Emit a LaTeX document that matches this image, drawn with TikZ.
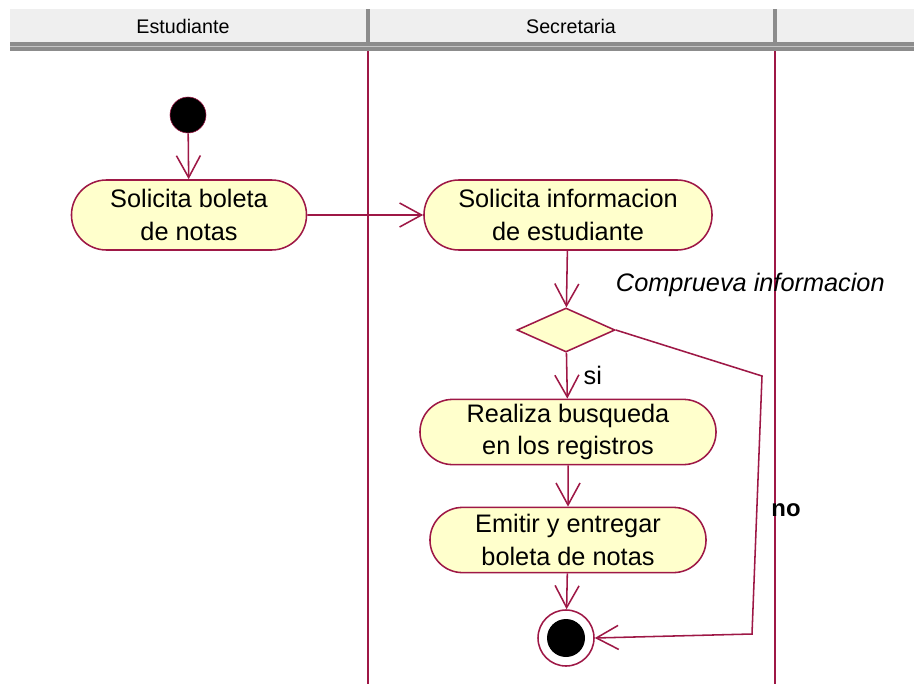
\documentclass[tikz,border=0pt]{standalone}
\usepackage{fontspec}
\setmainfont{Liberation Sans}
\usetikzlibrary{shapes.misc,shapes.geometric,arrows.meta}

\definecolor{roseline}{RGB}{158,24,70}
\definecolor{rosefill}{RGB}{255,255,204}
\definecolor{headgray}{RGB}{239,239,239}
\definecolor{bandgray}{RGB}{140,140,140}

\tikzset{
  activity/.style={rounded rectangle, draw=roseline, line width=1.1pt, fill=rosefill, align=center,
    inner sep=0pt, font=\fontsize{18}{23}\selectfont},
  flow/.style={draw=roseline, line width=1.1pt, -{Straight Barb[length=5.5mm,width=6mm]}},
  lane/.style={draw=roseline, line width=1.3pt}
}

\begin{document}
\begin{tikzpicture}[x=0.025cm, y=-0.025cm]
  \useasboundingbox (0,0) rectangle (914,684);

  % swimlane header
  \fill[headgray] (10,9) rectangle (914,42);
  \fill[bandgray] (10,42) rectangle (914,51);
  \draw[gray!45, line width=1pt] (10,46.5) -- (914,46.5);
  \draw[bandgray, line width=2.4pt] (368,9) -- (368,42);
  \draw[bandgray, line width=2.4pt] (775,9) -- (775,42);
  \node[font=\fontsize{14}{16}\selectfont] (estudiante) at (183,26) {Estudiante};
  \node[font=\fontsize{14}{16}\selectfont] (secretaria) at (571,26) {Secretaria};

  % lanes
  \draw[lane] (368,51) -- (368,684);
  \draw[lane] (775,51) -- (775,684);

  \node[circle, fill=black, draw=roseline, minimum size=36*0.025cm, inner sep=0pt] (start) at (188,115) {};

  \node[activity, minimum width=5.875cm, minimum height=1.75cm] (solicita) at (189,215) {Solicita boleta\\de notas};
  \node[activity, minimum width=7.2cm, minimum height=1.75cm] (info) at (568,215) {Solicita informacion\\de estudiante};
  \node[diamond, draw=roseline, line width=1.1pt, fill=rosefill, inner sep=0pt, minimum width=2.45cm, minimum height=1.1cm] (check) at (566,330) {};
  \node[font=\fontsize{18}{23}\selectfont\itshape, anchor=west] (checklabel) at (611,285) {Comprueva informacion};
  \node[activity, minimum width=7.4cm, minimum height=1.63cm] (busqueda) at (568,432) {Realiza busqueda\\en los registros};
  \node[activity, minimum width=6.9cm, minimum height=1.63cm] (emitir) at (568,540) {Emitir y entregar\\boleta de notas};

  \node[circle, draw=roseline, line width=1.1pt, fill=white, minimum size=56*0.025cm, inner sep=0pt] (stop) at (566,638) {};
  \fill[black] (stop) circle (19*0.025cm);

  \coordinate (noa) at (762,376);
  \coordinate (nob) at (752,634);

  \draw[flow] (start) -- (solicita);
  \draw[flow] (solicita) -- (info);
  \draw[flow] (info) -- (check);
  \draw[flow] (check) -- node[right, font=\fontsize{18}{23}\selectfont, xshift=8pt] {si} (busqueda);
  \draw[flow] (busqueda) -- (emitir);
  \draw[flow] (emitir) -- (stop);
  \draw[flow] (check.east) -- (noa) -- (nob) -- (stop.east);
  \node[font=\fontsize{17}{21}\selectfont\bfseries] (nolabel) at (786,510) {no};
\end{tikzpicture}
\end{document}
